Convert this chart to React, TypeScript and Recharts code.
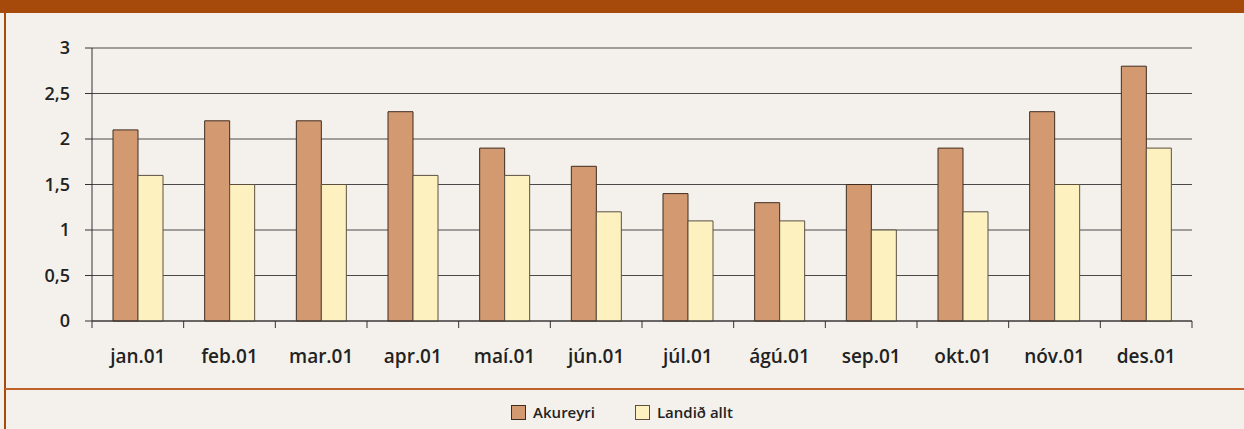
import { BarChart, Bar, XAxis, YAxis, CartesianGrid } from 'recharts'

const months = ['jan.01', 'feb.01', 'mar.01', 'apr.01', 'maí.01', 'jún.01', 'júl.01', 'ágú.01', 'sep.01', 'okt.01', 'nóv.01', 'des.01']
const akureyri = [2.1, 2.2, 2.2, 2.3, 1.9, 1.7, 1.4, 1.3, 1.5, 1.9, 2.3, 2.8]
const landid = [1.6, 1.5, 1.5, 1.6, 1.6, 1.2, 1.1, 1.1, 1.0, 1.2, 1.5, 1.9]
const yTicks = [0, 0.5, 1, 1.5, 2, 2.5, 3]
const seriesNames = ['Akureyri', 'Landið allt']

const data = months.map((m, i) => ({ month: m, akureyri: akureyri[i], landid: landid[i] }))

const W = 1244
const H = 429
const margin = { top: 48, right: 52, bottom: 68, left: 32 }
const step = (W - margin.left - 60 - margin.right) / months.length

const colors = {
    bg: '#f4f1ec',
    brown: '#a64a0b',
    line: '#c0622a',
    akFill: '#d39a72',
    akStroke: '#3f2c1f',
    laFill: '#fdf1c0',
    laStroke: '#5b5040',
    text: '#222',
}

function MonthTick(props: any) {
    const { x, y, payload, index } = props
    return (
        <g>
            <line x1={x - step / 2} x2={x - step / 2} y1={y - 8} y2={y - 1} stroke="#333" />
            {index === months.length - 1 && (
                <line x1={x + step / 2} x2={x + step / 2} y1={y - 8} y2={y - 1} stroke="#333" />
            )}
            <text
                x={x}
                y={y + 34}
                textAnchor="middle"
                fill={colors.text}
                style={{ fontFamily: 'Open Sans', fontWeight: 600, fontSize: 19 }}
            >
                {payload.value}
            </text>
        </g>
    )
}

export default function App() {
    return (
        <div
            style={{
                position: 'absolute',
                left: 0,
                top: 0,
                width: W,
                height: H,
                background: colors.bg,
                overflow: 'hidden',
                fontFamily: 'Open Sans',
            }}
        >
            <div style={{ position: 'absolute', left: 0, top: 0, width: W, height: 13, background: colors.brown }} />
            <div style={{ position: 'absolute', left: 4, top: 13, width: 2, height: H - 13, background: colors.brown }} />
            <div style={{ position: 'absolute', left: 5, top: 388, width: W - 5, height: 2, background: colors.line }} />

            <div style={{ position: 'absolute', left: 0, top: 0 }}>
                <BarChart width={W} height={H} data={data} margin={margin} barGap={0} barSize={25}>
                    <CartesianGrid vertical={false} stroke="#4a4a4a" />
                    <XAxis
                        xAxisId="top"
                        orientation="top"
                        dataKey="month"
                        height={0}
                        tick={false}
                        tickLine={false}
                        axisLine={{ stroke: '#8c8c8c', strokeWidth: 2 }}
                    />
                    <XAxis
                        dataKey="month"
                        height={40}
                        tickLine={false}
                        axisLine={{ stroke: '#333' }}
                        tick={<MonthTick />}
                        interval={0}
                    />
                    <YAxis
                        domain={[0, 3]}
                        ticks={yTicks}
                        width={60}
                        tickSize={7}
                        tickMargin={15}
                        axisLine={{ stroke: '#333' }}
                        tickLine={{ stroke: '#333' }}
                        tickFormatter={(v: number) => String(v).replace('.', ',')}
                        tick={{ fill: colors.text, fontSize: 18, fontFamily: 'Open Sans', fontWeight: 600 }}
                    />
                    <YAxis
                        yAxisId="right"
                        orientation="right"
                        domain={[0, 3]}
                        width={0}
                        tick={false}
                        tickLine={false}
                        axisLine={{ stroke: '#999' }}
                    />
                    <Bar dataKey="akureyri" name={seriesNames[0]} fill={colors.akFill} stroke={colors.akStroke} isAnimationActive={false} />
                    <Bar dataKey="landid" name={seriesNames[1]} fill={colors.laFill} stroke={colors.laStroke} isAnimationActive={false} />
                </BarChart>
            </div>

            <div
                style={{
                    position: 'absolute',
                    left: 0,
                    top: 402,
                    width: W,
                    display: 'flex',
                    justifyContent: 'center',
                    gap: 40,
                    fontSize: 15,
                    fontWeight: 600,
                    color: colors.text,
                }}
            >
                {seriesNames.map((name, i) => (
                    <div key={name} style={{ display: 'flex', alignItems: 'center', gap: 7 }}>
                        <span
                            style={{
                                display: 'inline-block',
                                width: 13,
                                height: 13,
                                background: i === 0 ? colors.akFill : colors.laFill,
                                border: `1px solid ${i === 0 ? colors.akStroke : colors.laStroke}`,
                            }}
                        />
                        <span>{name}</span>
                    </div>
                ))}
            </div>
        </div>
    )
}
